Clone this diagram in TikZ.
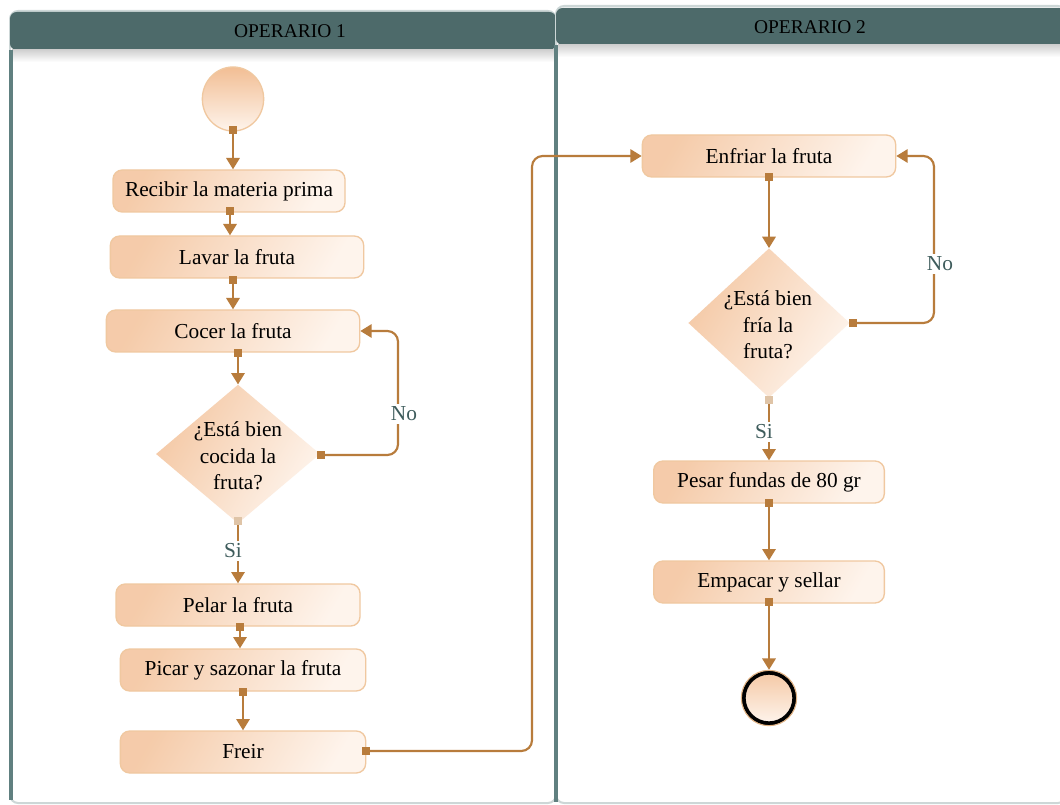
\documentclass[tikz,border=0pt]{standalone}
\usepackage{fontspec}
\setmainfont{Liberation Serif}
\usetikzlibrary{arrows.meta,shapes.geometric,calc,shadings}

\definecolor{lanehead}{RGB}{77,106,106}
\definecolor{laneline}{RGB}{96,128,128}
\definecolor{laneedge}{RGB}{205,215,215}
\definecolor{flow}{RGB}{184,124,60}
\definecolor{boxedge}{RGB}{240,200,160}
\definecolor{boxdark}{RGB}{242,190,148}
\definecolor{boxlight}{RGB}{254,244,236}
\definecolor{guard}{RGB}{62,92,92}

\tikzset{
  stepbox/.style={rounded corners=7pt, draw=boxedge, line width=1pt,
    top color=boxdark!75!boxlight, bottom color=boxlight,
    shading angle=60,
    minimum height=31.5pt, inner sep=0pt, font=\fontsize{16}{18}\selectfont},
  decision/.style={diamond, draw=none,
    top color=boxdark!80!boxlight, bottom color=boxlight, shading angle=60,
    inner sep=0pt, align=center, font=\fontsize{16}{20}\selectfont},
  flowline/.style={draw=flow, line width=1.6pt, rounded corners=8pt,
    -{Triangle[length=8.5pt,width=10pt]}},
  srcsq/.style={fill=flow, minimum size=6.5pt, inner sep=0pt},
  guardlbl/.style={fill=white, text=guard, inner sep=2pt,
    font=\fontsize{16}{18}\selectfont},
  headtxt/.style={font=\fontsize{14.6}{16}\selectfont, text=black},
}

\begin{document}
\begin{tikzpicture}[x=0.75pt,y=-0.75pt]
\useasboundingbox (0,0) rectangle (1060,805);

% ---- swimlane 1 ----
\draw[laneedge, line width=1.5pt, rounded corners=6pt, fill=white]
  (10,11) rectangle (556,803);
\fill[lanehead, rounded corners=5pt] (10,12) -- (10,50) -- (556,50) -- (556,12) -- cycle;
\shade[top color=black!18, bottom color=white] (12,50) rectangle (554,62);
\draw[laneline, line width=2.6pt] (11,50) -- (11,800);
\node[headtxt] (h1) at (290,31) {OPERARIO 1};

% ---- swimlane 2 ----
\draw[laneedge, line width=1.5pt, rounded corners=6pt, fill=white]
  (556,6) rectangle (1066,803);
\fill[lanehead, rounded corners=5pt] (556,8) -- (556,45) -- (1066,45) -- (1066,8) -- cycle;
\shade[top color=black!18, bottom color=white] (558,45) rectangle (1060,57);
\draw[laneline, line width=2.6pt] (556,45) -- (556,802);
\node[headtxt] (h2) at (810,27) {OPERARIO 2};

% ---- start / end ----
\node[ellipse, minimum width=46pt, minimum height=48pt, draw=boxedge, line width=1pt,
  top color=boxdark, bottom color=boxlight] (start) at (233,99) {};
\node[circle, minimum size=38pt, draw=black, line width=3pt,
  top color=boxdark!80!boxlight, bottom color=boxlight] (stop) at (769,698) {};
\node[circle, minimum size=41.5pt, draw=boxedge!70!flow, line width=0.8pt] (stopring) at (769,698) {};

% ---- activities, lane 1 ----
\node[stepbox, minimum width=174pt] (recibir) at (229,191) {Recibir la materia prima};
\node[stepbox, minimum width=190pt] (lavar)   at (237,257) {Lavar la fruta};
\node[stepbox, minimum width=190pt] (cocer)   at (233,331) {Cocer la fruta};
\node[decision, minimum width=123pt, minimum height=104pt] (q1) at (238,454) {};
\node[align=center, font=\fontsize{16}{20}\selectfont] (q1t) at (238,456)
  {¿Está bien\\cocida la\\fruta?};
\node[stepbox, minimum width=183pt] (pelar)  at (238,605) {Pelar la fruta};
\node[stepbox, minimum width=184pt] (picar)  at (243,670) {Picar y sazonar la fruta};
\node[stepbox, minimum width=184pt] (freir)  at (243,752) {Freir};

% ---- activities, lane 2 ----
\node[stepbox, minimum width=190pt] (enfriar) at (769,156) {Enfriar la fruta};
\node[decision, minimum width=121pt, minimum height=112pt] (q2) at (769,323) {};
\node[align=center, font=\fontsize{16}{20}\selectfont] (q2t) at (768,325)
  {¿Está bien\\fría la\\fruta?};
\node[stepbox, minimum width=173pt] (pesar)   at (769,482) {Pesar fundas de 80 gr};
\node[stepbox, minimum width=173pt] (empacar) at (769,582) {Empacar y sellar};

% ---- source markers ----
\coordinate (s0) at (233,130);
\coordinate (s1) at (230,211);
\coordinate (s2) at (233,280);
\coordinate (s3) at (238,353);
\coordinate (s4) at (321,455);
\coordinate (s5) at (238,521);
\coordinate (s6) at (240,627);
\coordinate (s7) at (243,692);
\coordinate (s8) at (366,751);
\coordinate (s9) at (769,177);
\coordinate (s10) at (853,323);
\coordinate (s11) at (769,400);
\coordinate (s12) at (769,503);
\coordinate (s13) at (769,602);

% ---- connectors, lane 1 ----
\draw[flowline] (s0) -- (s0 |- recibir.north);
\draw[flowline] (s1) -- (s1 |- lavar.north);
\draw[flowline] (s2) -- (s2 |- cocer.north);
\draw[flowline] (s3) -- (q1.north);
\draw[flowline] (s4) -- (398,455) -- (398,331) -- (cocer.east);
\node[guardlbl] (no1) at (404,414) {No};
\draw[flowline] (s5) -- (s5 |- pelar.north);
\node[guardlbl] (si1) at (233,551) {Si};
\draw[flowline] (s6) -- (s6 |- picar.north);
\draw[flowline] (s7) -- (s7 |- freir.north);
\draw[flowline] (s8) -- (532,751) -- (532,156) -- (enfriar.west);

% ---- connectors, lane 2 ----
\draw[flowline] (s9) -- (q2.north);
\draw[flowline] (s10) -- (934,323) -- (934,156) -- (enfriar.east);
\node[guardlbl] (no2) at (940,264) {No};
\draw[flowline] (s11) -- (s11 |- pesar.north);
\node[guardlbl] (si2) at (764,432) {Si};
\draw[flowline] (s12) -- (s12 |- empacar.north);
\draw[flowline] (s13) -- (stopring.north);

% ---- source squares ----
\foreach \s in {s0,s1,s2,s3,s4,s6,s7,s8,s9,s10,s12,s13}
  \node[srcsq] at (\s) {};
\node[srcsq, fill=flow!45] at (s5) {};
\node[srcsq, fill=flow!45] at (s11) {};
\end{tikzpicture}
\end{document}
